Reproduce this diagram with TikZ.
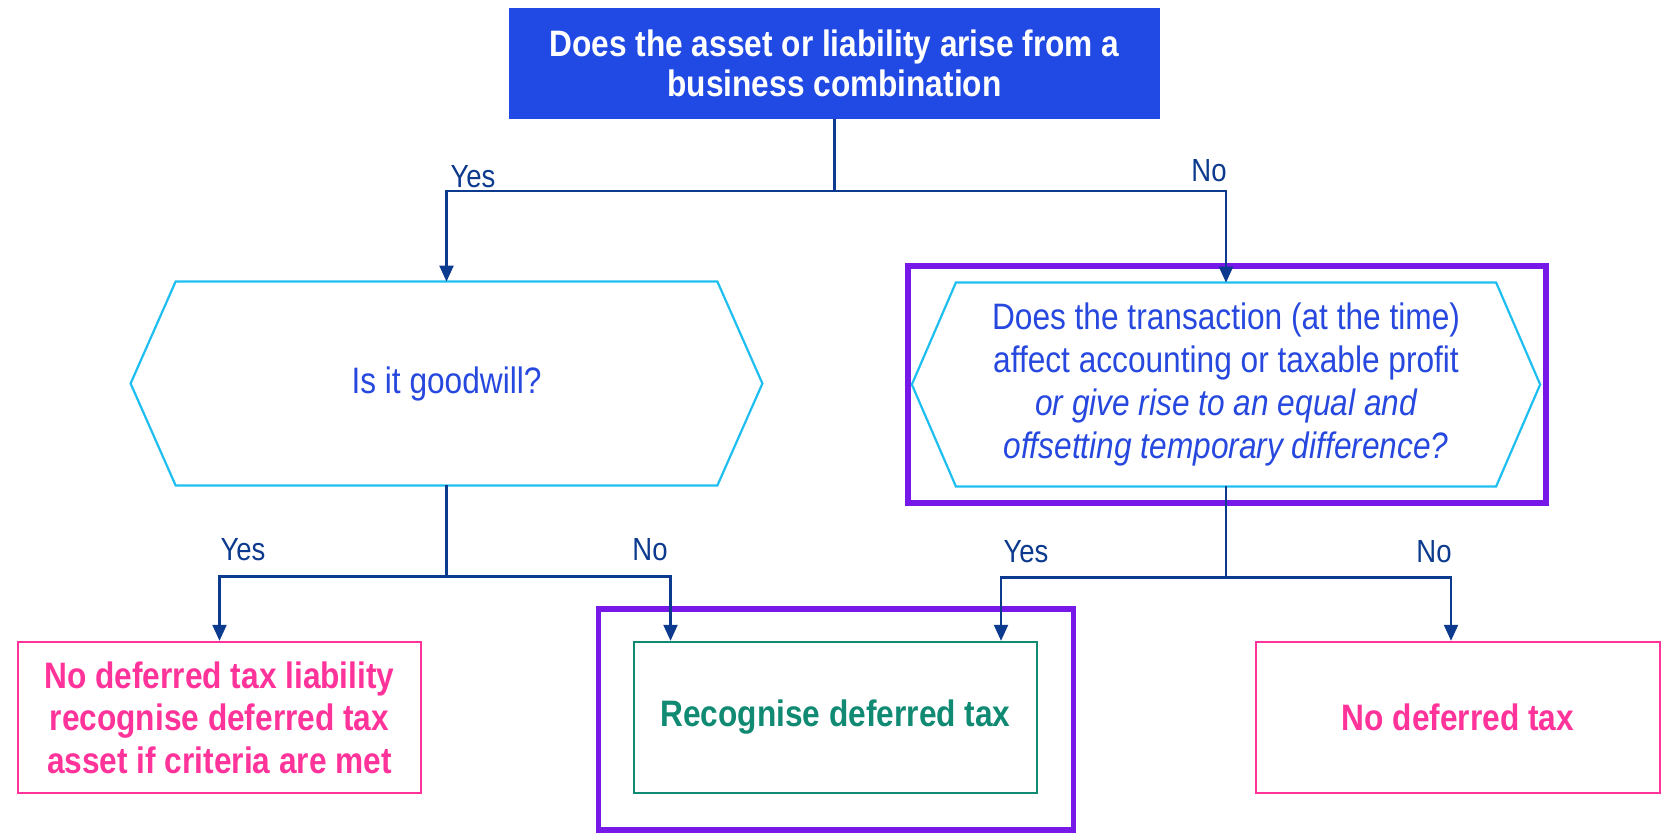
\documentclass[tikz,border=0pt]{standalone}
\usepackage{fontspec}
\setmainfont[FakeStretch=0.86]{Liberation Sans}
\usetikzlibrary{arrows.meta}

\definecolor{headblue}{RGB}{33,73,227}
\definecolor{qblue}{RGB}{38,72,222}
\definecolor{hexcyan}{RGB}{30,190,240}
\definecolor{linknavy}{RGB}{12,58,142}
\definecolor{hlpurple}{RGB}{117,24,232}
\definecolor{outpink}{RGB}{255,51,153}
\definecolor{outgreen}{RGB}{16,138,114}

\begin{document}
\begin{tikzpicture}[x=0.5pt,y=-0.5pt,
  flow/.style={draw=linknavy, line width=1.1pt},
  arrowflow/.style={flow, -{Triangle[length=8pt,width=7pt]}},
  answer/.style={text=linknavy, font=\fontsize{16}{18}\selectfont, inner sep=0pt},
  headq/.style={rectangle, fill=headblue, text=white, align=center,
    font=\bfseries\fontsize{18.4}{20}\selectfont,
    minimum width=325.5pt, minimum height=55.5pt, inner sep=0pt},
  hexq/.style={rectangle, inner sep=0pt, text=qblue, align=center,
    font=\fontsize{18.4}{21.6}\selectfont, minimum height=101.5pt},
  hexline/.style={draw=hexcyan, line width=1.1pt, line join=miter},
  outcome/.style={rectangle, line width=1.2pt, align=center, inner sep=0pt,
    font=\bfseries\fontsize{18.4}{21.3}\selectfont,
    minimum width=201.5pt, minimum height=75.5pt},
  highlight/.style={rectangle, draw=hlpurple, line width=2.7pt, inner sep=0pt}]

\useasboundingbox (0,0) rectangle (1673,833);

% highlight frames behind the emphasised steps
\node[highlight, minimum width=319pt, minimum height=118.5pt] (frameR) at (1226.8,384.5) {};
\node[highlight, minimum width=237.25pt, minimum height=110.5pt] (frameC) at (836,719.5) {};

% opening question
\node[headq] (top) at (834.5,63.5)
  {Does the asset or liability arise from a\\business combination};

% the two follow-up questions, drawn as flat hexagons
\node[hexq, minimum width=270.5pt] (hexL) at (446.5,383.5) {Is it goodwill?};
\draw[hexline] (hexL.north west) -- (hexL.north east) -- ([xshift=22.5pt]hexL.east)
  -- (hexL.south east) -- (hexL.south west) -- ([xshift=-22.5pt]hexL.west) -- cycle;

\node[hexq, minimum width=269.75pt] (hexR) at (1226,384.5)
  {Does the transaction (at the time)\\affect accounting or taxable profit\\
   \itshape or give rise to an equal and\\\itshape offsetting temporary difference?};
\draw[hexline] (hexR.north west) -- (hexR.north east) -- ([xshift=22pt]hexR.east)
  -- (hexR.south east) -- (hexR.south west) -- ([xshift=-22pt]hexR.west) -- cycle;

% outcomes
\node[outcome, draw=outpink, text=outpink] (resL) at (219.5,717.5)
  {No deferred tax liability\\recognise deferred tax\\asset if criteria are met};
\node[outcome, draw=outgreen, text=outgreen] (resC) at (835.5,717.5)
  {Recognise deferred tax};
\node[outcome, draw=outpink, text=outpink, minimum width=202pt] (resR) at (1458,717.5)
  {No deferred tax};

% connectors
\path (top.south) ++(0,72) coordinate (split1);
\draw[flow] (top.south) -- (split1);
\draw[arrowflow] (split1) -| (hexL.north);
\draw[arrowflow] (split1) -| (hexR.north);

\path (hexL.south) ++(0,91) coordinate (split2);
\draw[flow] (hexL.south) -- (split2);
\draw[arrowflow] (split2) -| (resL.north);
\draw[arrowflow] (split2) -| ([xshift=-82.5pt]resC.north);

\path (hexR.south) ++(0,91) coordinate (split3);
\draw[flow] (hexR.south) -- (split3);
\draw[arrowflow] (split3) -| ([xshift=82.75pt]resC.north);
\draw[arrowflow] (split3) -| ([xshift=-3.5pt]resR.north);

% branch answers
\node[answer] (yes1) at (473,177) {Yes};
\node[answer] (no1) at (1209,171) {No};
\node[answer] (yes2) at (243,550) {Yes};
\node[answer] (no2) at (650,550) {No};
\node[answer] (yes3) at (1026,552) {Yes};
\node[answer] (no3) at (1434,552) {No};
\end{tikzpicture}
\end{document}
